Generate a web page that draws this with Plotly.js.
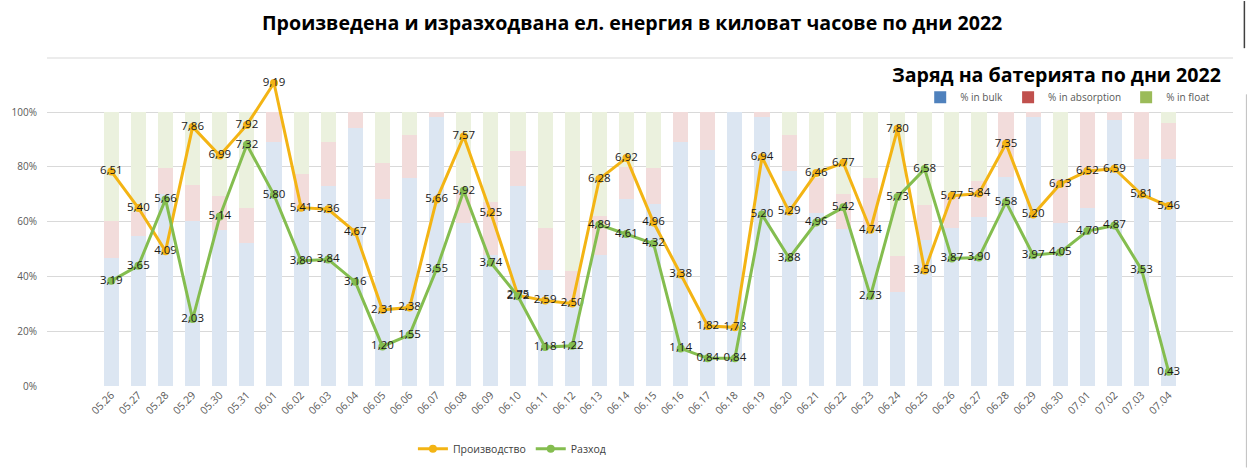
<!DOCTYPE html>
<html>
<head>
<meta charset="utf-8">
<script src="https://cdn.plot.ly/plotly-3.0.1.min.js"></script>
<style>
html,body{margin:0;padding:0;background:#fff;}
#chart{width:1249px;height:475px;}
</style>
</head>
<body>
<div id="chart"></div>
<script>
const dates = ["05.26","05.27","05.28","05.29","05.30","05.31","06.01","06.02","06.03","06.04",
  "06.05","06.06","06.07","06.08","06.09","06.10","06.11","06.12","06.13","06.14",
  "06.15","06.16","06.17","06.18","06.19","06.20","06.21","06.22","06.23","06.24",
  "06.25","06.26","06.27","06.28","06.29","06.30","07.01","07.02","07.03","07.04"];

const production = [6.51,5.40,4.09,7.86,6.99,7.92,9.19,5.41,5.36,4.67,
  2.31,2.38,5.66,7.57,5.25,2.75,2.59,2.50,6.28,6.92,
  4.96,3.38,1.82,1.78,6.94,5.29,6.46,6.77,4.74,7.80,
  3.50,5.77,5.84,7.35,5.20,6.13,6.52,6.59,5.81,5.46];

const consumption = [3.19,3.65,5.66,2.03,5.14,7.32,5.80,3.80,3.84,3.16,
  1.20,1.55,3.55,5.92,3.74,2.72,1.18,1.22,4.89,4.61,
  4.32,1.14,0.84,0.84,5.20,3.88,4.96,5.42,2.73,5.73,
  6.58,3.87,3.90,5.58,3.97,4.05,4.70,4.87,3.53,0.43];

const pctBulk = [46.8,54.6,70.0,60.2,57.0,52.2,89.2,65.0,73.1,94.3,
  68.3,76.1,98.2,59.4,47.7,73.1,42.4,29.5,47.7,68.3,
  66.3,89.2,86.3,100,98.2,78.3,63.0,57.2,58.0,34.4,
  53.2,57.6,61.8,76.3,98.2,59.5,65.0,97.0,82.7,82.7];

const pctAbsorption = [13.4,9.0,9.7,13.3,12.4,12.8,10.8,12.3,16.1,5.7,
  13.2,15.5,1.8,12.0,19.4,12.8,15.2,12.5,14.3,11.6,
  13.1,10.8,13.7,0,1.8,13.3,13.1,12.9,17.9,13.0,
  13.0,12.5,12.9,23.7,1.8,16.0,35.0,3.0,17.3,13.4];

const pctFloat = [39.8,36.4,20.3,26.5,30.6,35.0,0,22.7,10.8,0,
  18.5,8.4,0,28.6,32.9,14.1,42.4,58.0,38.0,20.1,
  20.6,0,0,0,0,8.4,23.9,29.9,24.1,52.6,
  33.8,29.9,25.3,0,0,24.5,0,0,0,3.9];

const pctTicks = [0,20,40,60,80,100];

const fmt = v => v.toFixed(2).replace('.', ',');

const FONT = '"Open Sans", "Noto Sans", sans-serif';

const traces = [
  {type:'bar', x:dates, y:pctBulk, marker:{color:'#dce6f2'}, showlegend:false, hoverinfo:'skip', name:'% in bulk'},
  {type:'bar', x:dates, y:pctAbsorption, marker:{color:'#f2dcdb'}, showlegend:false, hoverinfo:'skip', name:'% in absorption'},
  {type:'bar', x:dates, y:pctFloat, marker:{color:'#ebf1de'}, showlegend:false, hoverinfo:'skip', name:'% in float'},
  {type:'bar', x:[null], y:[null], marker:{color:'#4f81bd'}, name:'% in bulk', legend:'legend2'},
  {type:'bar', x:[null], y:[null], marker:{color:'#c0504d'}, name:'% in absorption', legend:'legend2'},
  {type:'bar', x:[null], y:[null], marker:{color:'#9bbb59'}, name:'% in float', legend:'legend2'},
  {type:'scatter', mode:'lines+markers+text', x:dates, y:production, yaxis:'y2',
    name:'Производство', line:{color:'#f3b414', width:3}, marker:{color:'#f3b414', size:8},
    text:production.map(fmt), textposition:'middle center',
    textfont:{family:FONT, size:11.5, color:'#1a1a1a'}, cliponaxis:false},
  {type:'scatter', mode:'lines+markers+text', x:dates, y:consumption, yaxis:'y2',
    name:'Разход', line:{color:'#84bd4f', width:3}, marker:{color:'#84bd4f', size:8},
    text:consumption.map(fmt), textposition:'middle center',
    textfont:{family:FONT, size:11.5, color:'#1a1a1a'}, cliponaxis:false}
];

// plot area: x 47..1233, y 58..392 px ; 100% sits at y=113
const H = 334;
const py = px => (392 - px) / H;

const layout = {
  width:1249, height:475,
  margin:{l:47, r:16, t:58, b:83},
  paper_bgcolor:'#ffffff', plot_bgcolor:'#ffffff',
  font:{family:FONT, size:10, color:'#595959'},
  barmode:'stack', bargap:0.44,
  showlegend:true,
  xaxis:{type:'category', tickangle:-45, showgrid:false, zeroline:false, showline:false,
    ticks:'', tickfont:{size:10.5, color:'#595959'}, automargin:false},
  yaxis:{range:[0, 100 * H / 279], tickvals:pctTicks, ticktext:pctTicks.map(v => v + '%'),
    showgrid:true, gridcolor:'#d9d9d9',
    gridwidth:1, zeroline:false, showline:false, tickfont:{size:10, color:'#595959'},
    ticklabelstandoff:9, automargin:false, fixedrange:true},
  yaxis2:{overlaying:'y', side:'right', range:[0, 9.95], visible:false, showgrid:false,
    zeroline:false},
  legend:{orientation:'h', x:0.392, xanchor:'center', y:py(456), yanchor:'middle',
    font:{size:10.5, color:'#404040'}, bgcolor:'rgba(0,0,0,0)', traceorder:'normal'},
  legend2:{orientation:'h', x:0.985, xanchor:'right', y:py(98), yanchor:'middle',
    font:{size:10, color:'#595959'}, bgcolor:'rgba(0,0,0,0)', itemwidth:30, traceorder:'normal'},
  annotations:[
    {text:'<b>Произведена и изразходвана ел. енергия в киловат часове по дни 2022</b>',
      xref:'paper', yref:'paper', x:0.493, y:py(22), xanchor:'center', yanchor:'middle',
      showarrow:false, font:{family:FONT, size:19.6, color:'#000000'}},
    {text:'<b>Заряд на батерията по дни 2022</b>',
      xref:'paper', yref:'paper', x:0.9916, y:py(75), xanchor:'right', yanchor:'middle',
      showarrow:false, font:{family:FONT, size:19.6, color:'#000000'}}
  ],
  shapes:[
    {type:'line', xref:'paper', yref:'paper', x0:0, x1:1, y0:1, y1:1,
      line:{color:'#d9d9d9', width:1}},
    {type:'line', xref:'paper', yref:'paper', x0:1.0113, x1:1.0113, y0:py(95), y1:py(475),
      line:{color:'#bfbfbf', width:1}},
    {type:'line', xref:'paper', yref:'paper', x0:1.0096, x1:1.0096, y0:py(0), y1:py(48),
      line:{color:'#404040', width:1.5}}
  ]
};

Plotly.newPlot('chart', traces, layout, {displayModeBar:false, staticPlot:true});
</script>
</body>
</html>
